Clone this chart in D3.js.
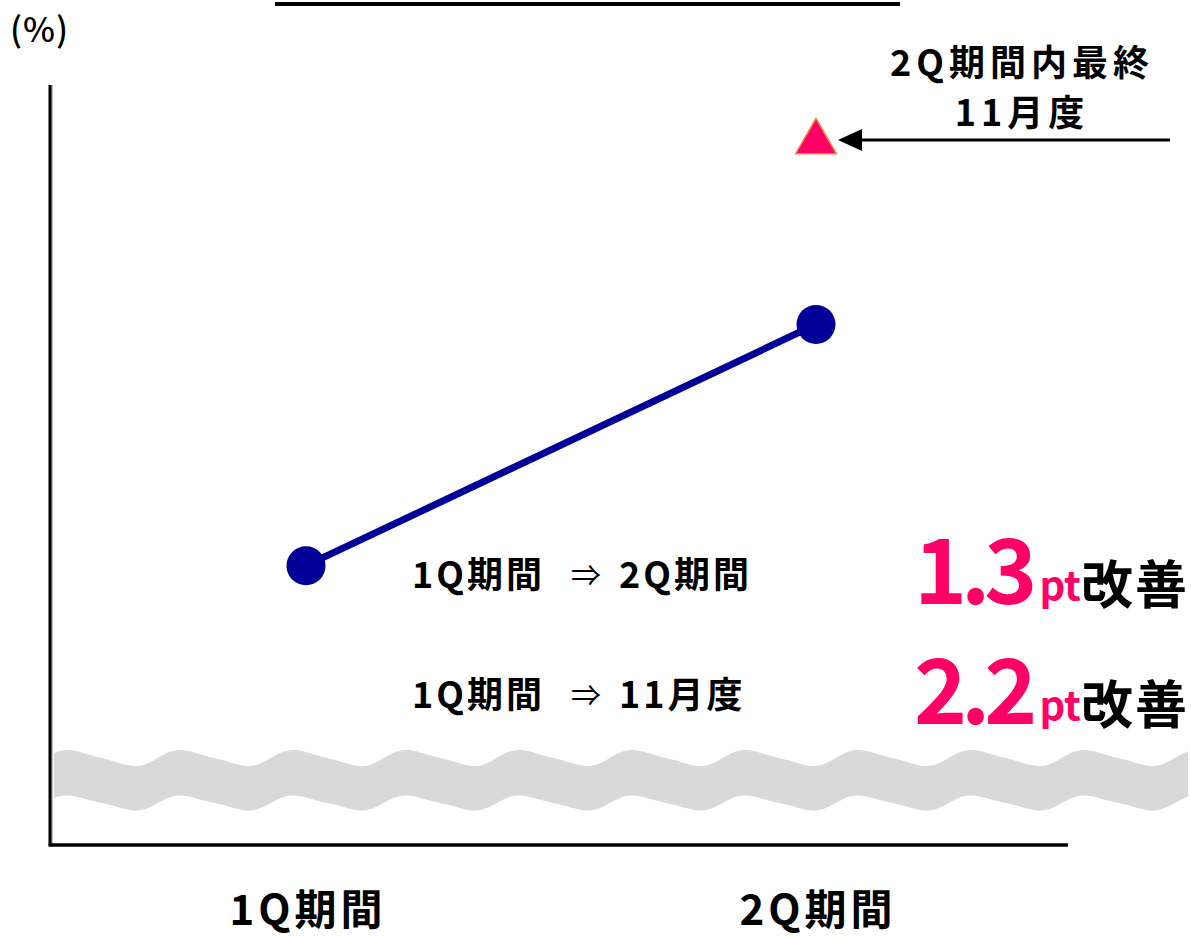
<!DOCTYPE html>
<html><head><meta charset="utf-8">
<script src="https://cdn.jsdelivr.net/npm/d3@7"></script>
<style>
html,body{margin:0;padding:0;background:#fff;}
svg{display:block;font-family:"Noto Sans CJK JP","Noto Sans",sans-serif;}
</style></head>
<body>
<svg id="chart" width="1191" height="939"></svg>
<script>
// ---- data ----
const categories = ["1Q期間", "2Q期間"];
const periodValues = [90.00, 91.27];          // % (axis broken, absolute level not shown)
const novemberLabel = "2Q期間内最終";
const novemberSub = "11月度";
const novemberValue = 92.22;
const novemberCategory = "2Q期間";
const diffFrom = ["1Q期間", "1Q期間"];
const diffTo = ["2Q期間", "11月度"];
const diffValues = ["1.3", "2.2"];
const unitLabel = "(%)";

const W = 1191, H = 939;
const svg = d3.select("#chart");
const axisX = 50, axisTop = 85, axisBottom = 845, axisRight = 1068;

const x = d3.scalePoint().domain(categories).range([306, 816]);
const y = d3.scaleLinear().domain([88.53, 92.53]).range([axisBottom, axisTop]);

// title underline (title itself is cut off above the frame)
svg.append("line").attr("x1", 275).attr("x2", 900).attr("y1", 4).attr("y2", 4)
  .attr("stroke", "#000").attr("stroke-width", 4);

// axis break band (wavy)
const waveL = 54, waveR = 1189, period = 113, phase = 73;
function edge(center, amp) {
  const pts = [];
  for (let px = waveL; px <= waveR; px += 2) {
    const t = (px - phase) / period * 2 * Math.PI;
    pts.push([px, center - amp * Math.cos(t) + 1.5 * Math.sin(2 * t)]);
  }
  return pts;
}
const topE = edge(758, 7.5), botE = edge(803, 7);
const bandPts = topE.concat(botE.slice().reverse());
svg.append("path").attr("d", d3.line()(bandPts) + "Z").attr("fill", "#D9D9D9");

// axes
svg.append("line").attr("x1", axisX + 1.5).attr("x2", axisX + 1.5).attr("y1", axisTop).attr("y2", axisBottom + 2)
  .attr("stroke", "#bbb").attr("stroke-width", 3);
svg.append("line").attr("x1", axisX).attr("x2", axisX).attr("y1", axisTop).attr("y2", axisBottom)
  .attr("stroke", "#000").attr("stroke-width", 3);
svg.append("line").attr("x1", axisX - 1.5).attr("x2", axisRight).attr("y1", axisBottom).attr("y2", axisBottom)
  .attr("stroke", "#000").attr("stroke-width", 3.5);

// unit
svg.append("text").attr("x", 10).attr("y", 42).attr("font-size", 34).attr("font-weight", 500)
  .attr("letter-spacing", 1).text(unitLabel);

// category labels
svg.selectAll("text.cat").data(categories).join("text").attr("class", "cat")
  .attr("x", d => x(d) + 2).attr("y", 925).attr("text-anchor", "middle")
  .attr("font-size", 42).attr("font-weight", 700).attr("letter-spacing", 4).text(d => d);

// series line + points
const pts = categories.map((c, i) => [x(c), y(periodValues[i])]);
svg.append("path").attr("d", d3.line()(pts)).attr("fill", "none")
  .attr("stroke", "#000099").attr("stroke-width", 7);
svg.selectAll("circle.pt").data(pts).join("circle").attr("class", "pt")
  .attr("cx", d => d[0]).attr("cy", d => d[1]).attr("r", 19.5).attr("fill", "#000099");

// November triangle
const tx = x(novemberCategory), ty = y(novemberValue);
svg.append("path").attr("d", d3.symbol().type(d3.symbolTriangle).size(720)())
  .attr("transform", `translate(${tx},${ty - 2})`)
  .attr("fill", "#FF0066").attr("stroke", "#F08A3C").attr("stroke-width", 1.5);

// arrow
const ay = ty - 4;
svg.append("line").attr("x1", 1170).attr("x2", 855).attr("y1", ay).attr("y2", ay)
  .attr("stroke", "#000").attr("stroke-width", 3);
svg.append("path").attr("d", `M${838},${ay} L${862},${ay - 11} L${862},${ay + 11} Z`).attr("fill", "#000");

// annotation for November
svg.append("text").attr("x", 1022).attr("y", 76).attr("text-anchor", "middle")
  .attr("font-size", 36).attr("font-weight", 700).attr("letter-spacing", 5).text(novemberLabel);
svg.append("text").attr("x", 1022).attr("y", 126).attr("text-anchor", "middle")
  .attr("font-size", 36).attr("font-weight", 700).attr("letter-spacing", 5).text(novemberSub);

// diff texts
const rowY = [588, 708];
diffFrom.forEach((from, i) => {
  svg.append("text").attr("x", 412).attr("y", rowY[i]).attr("font-size", 36).attr("font-weight", 700)
    .attr("letter-spacing", 3).text(from);
  svg.append("text").attr("x", 571).attr("y", rowY[i] - 2).attr("font-size", 30).attr("font-weight", 400)
    .text("⇒");
  svg.append("text").attr("x", 619).attr("y", rowY[i]).attr("font-size", 36).attr("font-weight", 700)
    .attr("letter-spacing", 3).text(diffTo[i]);
  const v = svg.append("text").attr("x", 914).attr("y", rowY[i] + 16).attr("font-weight", 700);
  v.append("tspan").attr("font-size", 90).attr("fill", "#FF0066").attr("letter-spacing", -6).text(diffValues[i]);
  v.append("tspan").attr("font-size", 40).attr("fill", "#FF0066").attr("dx", 8).attr("dy", -4).text("pt");
  v.append("tspan").attr("font-size", 52).attr("fill", "#000").attr("dy", 4).attr("letter-spacing", 2).text("改善");
});
</script>
</body></html>
